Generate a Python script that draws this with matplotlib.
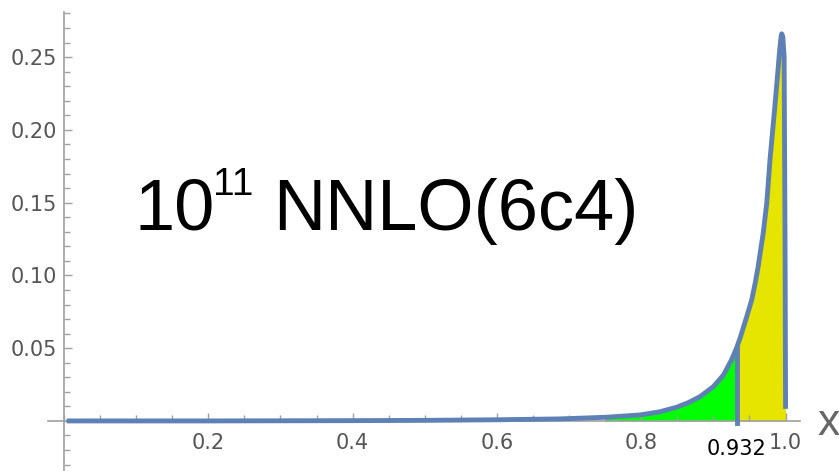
import numpy as np
import matplotlib
matplotlib.use("Agg")
import matplotlib.pyplot as plt
from matplotlib.ticker import MultipleLocator, FixedLocator

plt.rcParams['font.family'] = ['Liberation Sans', 'DejaVu Sans']

# curve
x_vals = [0.007, 0.1, 0.2, 0.3, 0.4, 0.5, 0.6, 0.687, 0.75, 0.798, 0.825, 0.849,
          0.865, 0.8815, 0.900, 0.914, 0.925, 0.932, 0.937, 0.942, 0.947, 0.953,
          0.958, 0.962, 0.965, 0.969, 0.974, 0.9785, 0.982, 0.9855, 0.989, 0.9914,
          0.9935, 0.9947, 0.9962, 0.998, 0.9993, 1.0]
y_vals = [0.0, 0.0, 0.0, 0.0001, 0.0002, 0.0004, 0.0008, 0.0014, 0.0025, 0.0041, 0.0062, 0.0094,
          0.0125, 0.0167, 0.0236, 0.0316, 0.0419, 0.050, 0.057, 0.065, 0.073, 0.083,
          0.095, 0.106, 0.116, 0.129, 0.150, 0.180, 0.199, 0.218, 0.238, 0.2525,
          0.263, 0.266, 0.264, 0.25, 0.12, 0.01]

green_from = 0.74
cut = 0.932
cut_label = "0.932"
title_base = "10"
title_exp = "11"
title_rest = "NNLO(6c4)"

x = np.array(x_vals)
y = np.array(y_vals)

W, H = 839, 471
fig = plt.figure(figsize=(W / 100, H / 100), dpi=100)
ax = fig.add_axes([48 / W, 0, 752 / W, 459 / H])
ax.set_xlim(-0.0222, 1.020)
ax.set_ylim(-0.0344, 0.281)

line_col = "#5E81B5"
axis_col = "#a0a0a0"
lab_col = "#555555"
tick_font = "DejaVu Sans"

# filled regions
ax.fill_between(x, 0, y, where=(x >= green_from) & (x <= cut), color="#00FF00", lw=0, zorder=1)
ax.fill_between(x, 0, y, where=(x >= cut), color="#E5E500", lw=0, zorder=1)

# curve and cut line
ax.plot(x, y, color=line_col, lw=3.5, solid_joinstyle="round", zorder=3)
ax.plot([cut, cut], [-0.0015, np.interp(cut, x, y)], color=line_col, lw=3.5, zorder=3)

# axes through origin
for s in ["top", "right"]:
    ax.spines[s].set_visible(False)
ax.spines["left"].set_position(("data", 0))
ax.spines["bottom"].set_position(("data", 0))
ax.spines["left"].set_color(axis_col)
ax.spines["bottom"].set_color(axis_col)
ax.spines["left"].set_linewidth(1.2)
ax.spines["bottom"].set_linewidth(1.2)
ax.set_facecolor("none")

ax.xaxis.set_major_locator(FixedLocator([0.2, 0.4, 0.6, 0.8, 1.0]))
ax.xaxis.set_minor_locator(MultipleLocator(0.05))
ax.yaxis.set_major_locator(FixedLocator([0.05, 0.10, 0.15, 0.20, 0.25]))
ax.yaxis.set_minor_locator(MultipleLocator(0.01))
ax.xaxis.set_major_formatter(plt.FuncFormatter(lambda v, p: f"{v:.1f}"))
ax.yaxis.set_major_formatter(plt.FuncFormatter(lambda v, p: f"{v:.2f}"))
ax.tick_params(which="both", direction="in", color=axis_col, width=1)
ax.tick_params(which="major", length=6, labelsize=15, labelcolor=lab_col)
ax.tick_params(which="minor", length=4)
ax.tick_params(axis="x", pad=9)
ax.tick_params(axis="y", pad=5)
for lab in ax.get_xticklabels() + ax.get_yticklabels():
    lab.set_family(tick_font)

ax.text(cut, -0.0125, cut_label, ha="center", va="top", fontsize=15,
        color="black", family=tick_font)
fig.text(818 / W, 1 - 435 / H, "x", fontsize=32, color="#666666", ha="left", va="baseline")

# big label
fig.text(135 / W, 1 - 230 / H, title_base, fontsize=52, ha="left", va="baseline")
fig.text(213 / W, 1 - 195 / H, title_exp, fontsize=28, ha="left", va="baseline")
fig.text(273 / W, 1 - 230 / H, title_rest, fontsize=52, ha="left", va="baseline")

fig.savefig("out.png", dpi=100)
